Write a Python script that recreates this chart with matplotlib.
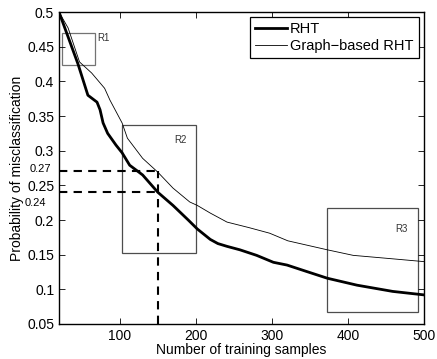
import matplotlib
matplotlib.use("Agg")
import matplotlib.pyplot as plt
from matplotlib.patches import Rectangle

plt.rcParams['font.family'] = ['Liberation Sans', 'DejaVu Sans']

# RHT (thick curve)
rht_x = [20, 30, 45, 58, 70, 74, 78, 84, 95, 103, 113, 130, 150, 170, 190, 202,
         219, 229, 241, 258, 280, 302, 320, 345, 373, 412, 459, 500]
rht_y = [0.500, 0.470, 0.425, 0.380, 0.370, 0.359, 0.340, 0.325, 0.308, 0.297, 0.279,
         0.265, 0.240, 0.221, 0.200, 0.187, 0.172, 0.166, 0.162, 0.157, 0.149, 0.139,
         0.135, 0.126, 0.116, 0.106, 0.097, 0.092]

# Graph-based RHT (thin curve)
gb_x = [20, 32, 47, 63, 80, 87, 103, 110, 130, 150, 170, 192, 202, 219, 241, 270,
        297, 321, 345, 373, 407, 459, 500]
gb_y = [0.500, 0.477, 0.428, 0.412, 0.390, 0.373, 0.340, 0.318, 0.289, 0.269, 0.246,
        0.226, 0.221, 0.210, 0.197, 0.189, 0.181, 0.170, 0.164, 0.157, 0.149, 0.144,
        0.140]

# highlighted regions: (name, x0, x1, y0, y1, label x, label y, colour)
regions = [
    ("R1", 24, 67, 0.424, 0.470, 70, 0.462, '0.45'),
    ("R2", 103, 200, 0.153, 0.337, 172, 0.315, '0.3'),
    ("R3", 373, 492, 0.068, 0.217, 462, 0.187, '0.3'),
]

mark_x = 150
mark_levels = [0.27, 0.24]
mark_labels = ['0.27', '0.24']
mark_label_y = [0.273, 0.224]

fig = plt.figure(figsize=(4.37, 3.59), dpi=100)
ax = fig.add_axes([0.135, 0.0975, 0.835, 0.869])

ax.plot(rht_x, rht_y, color='black', linewidth=2.0, label='RHT')
ax.plot(gb_x, gb_y, color='black', linewidth=0.6, label='Graph\u2212based RHT')

for name, x0, x1, y0, y1, lx, ly, col in regions:
    ax.add_patch(Rectangle((x0, y0), x1 - x0, y1 - y0, fill=False,
                           edgecolor=col, linewidth=0.9))
    ax.text(lx, ly, name, fontsize=7, color='0.2', ha='left', va='center')

# dashed guide lines
ax.plot([mark_x, mark_x], [0.05, mark_levels[0]], color='black', linestyle='--',
        linewidth=1.5, dashes=(4, 3))
for lv in mark_levels:
    ax.plot([20, mark_x], [lv, lv], color='black', linestyle='--',
            linewidth=1.5, dashes=(4, 3))
for lab, ly, off in zip(mark_labels, mark_label_y, [-6, -9]):
    ax.annotate(lab, xy=(0, ly), xycoords=('axes fraction', 'data'),
                xytext=(off, 0), textcoords='offset points',
                fontsize=8, ha='right', va='center', annotation_clip=False)

ax.set_xlim(20, 500)
ax.set_ylim(0.05, 0.5)
ax.set_xticks([100, 200, 300, 400, 500])
ax.set_yticks([0.05, 0.1, 0.15, 0.2, 0.25, 0.3, 0.35, 0.4, 0.45, 0.5])
ax.set_yticklabels(['0.05', '0.1', '0.15', '0.2', '0.25', '0.3', '0.35', '0.4', '0.45', '0.5'])
ax.tick_params(direction='in', top=True, right=True, labelsize=10, length=4, width=0.6)
for sp in ax.spines.values():
    sp.set_linewidth(1.0)

ax.set_xlabel('Number of training samples', fontsize=10, labelpad=0)
ax.set_ylabel('Probability of misclassification', fontsize=10, labelpad=2)

leg = ax.legend(loc='upper right', fontsize=10.5, handlelength=2.2, handletextpad=0.2,
                borderpad=0.35, labelspacing=0.2, fancybox=False, borderaxespad=0.35,
                framealpha=1)
leg.get_frame().set_edgecolor('black')
leg.get_frame().set_linewidth(0.9)

fig.savefig('out.png', dpi=100)
